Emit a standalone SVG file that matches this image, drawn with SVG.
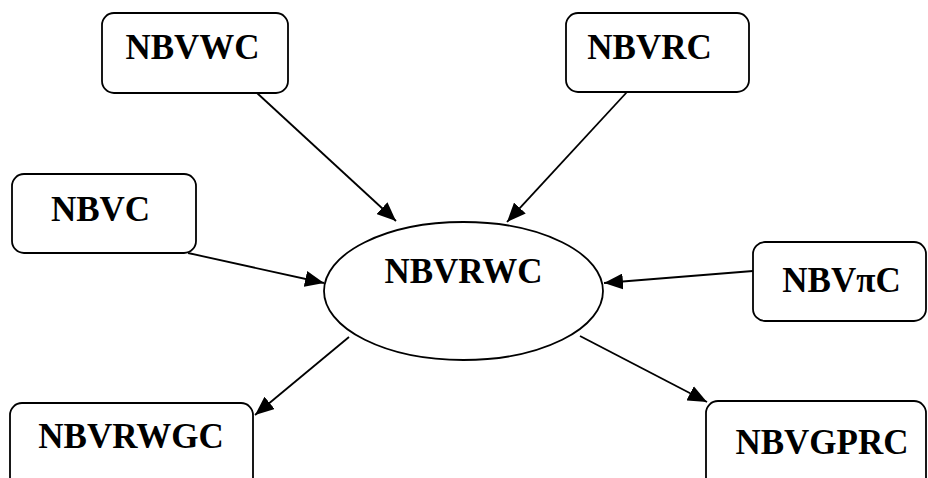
<svg xmlns="http://www.w3.org/2000/svg" width="928" height="478" viewBox="0 0 928 478">
<style>
.box{fill:#fff;stroke:#000;stroke-width:1.8}
.lbl{font-family:"Liberation Serif","Times New Roman",serif;font-weight:bold;font-size:35px;fill:#000;text-anchor:middle}
.edge{stroke:#000;stroke-width:1.8;fill:none;marker-end:url(#arr)}
</style>
<defs>
<marker id="arr" markerUnits="userSpaceOnUse" markerWidth="20" markerHeight="16" refX="19" refY="8" orient="auto">
<path d="M0,0 L19,8 L0,16 z" fill="#000"/>
</marker>
</defs>
<rect width="928" height="478" fill="#fff"/>
<g id="edges">
<line class="edge" x1="257" y1="93" x2="396" y2="221"/>
<line class="edge" x1="627" y1="92" x2="507" y2="222"/>
<line class="edge" x1="188" y1="253" x2="324" y2="283"/>
<line class="edge" x1="753" y1="271" x2="604" y2="283"/>
<line class="edge" x1="349" y1="337" x2="255" y2="415"/>
<line class="edge" x1="580" y1="336" x2="707" y2="402"/>
</g>
<g id="n-center">
<ellipse class="box" cx="463.5" cy="291" rx="139.5" ry="69"/>
<text class="lbl" x="463.5" y="283">NBVRWC</text>
</g>
<g id="n-nbvwc">
<rect class="box" x="102" y="13" width="186" height="80" rx="12"/>
<text class="lbl" x="192.5" y="59">NBVWC</text>
</g>
<g id="n-nbvrc">
<rect class="box" x="566" y="13" width="183" height="79" rx="12"/>
<text class="lbl" x="649.5" y="59">NBVRC</text>
</g>
<g id="n-nbvc">
<rect class="box" x="12" y="174" width="184" height="79" rx="12"/>
<text class="lbl" x="100.5" y="221">NBVC</text>
</g>
<g id="n-nbvpic">
<rect class="box" x="753" y="242" width="173" height="79" rx="12"/>
<text class="lbl" x="841.5" y="292">NBVπC</text>
</g>
<g id="n-nbvrwgc">
<rect class="box" x="10" y="403" width="243" height="90" rx="12"/>
<text class="lbl" x="131" y="448">NBVRWGC</text>
</g>
<g id="n-nbvgprc">
<rect class="box" x="706" y="401" width="220" height="90" rx="12"/>
<text class="lbl" x="822" y="454">NBVGPRC</text>
</g>
</svg>
